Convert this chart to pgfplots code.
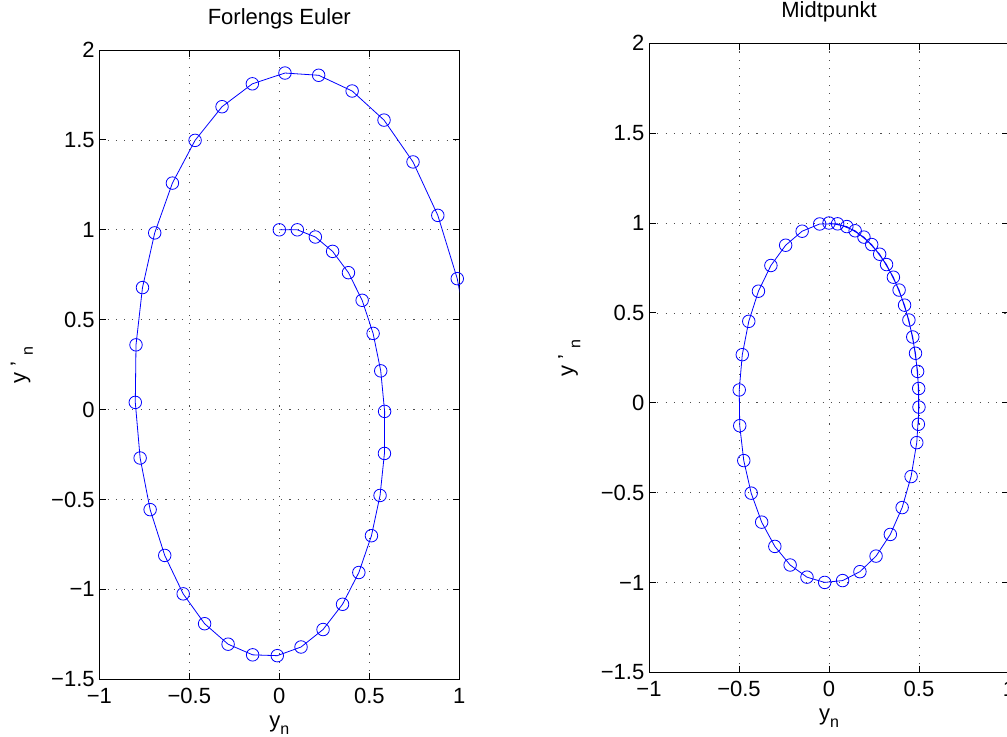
\documentclass[border=0pt]{standalone}
\usepackage{pgfplots}
\pgfplotsset{compat=1.18}
\usepackage{pgfplotstable}
\usepackage{fontspec}
\setmainfont{Liberation Sans}

\pgfplotstableread{
y v
0 1
0.1 1
0.2 0.96
0.296 0.88
0.384 0.7616
0.46016 0.608
0.52096 0.423936
0.563354 0.215552
0.584909 -0.009789
0.583930 -0.243753
0.559555 -0.477325
0.511822 -0.701147
0.441707 -0.905876
0.351120 -1.082559
0.242864 -1.223006
0.120563 -1.320152
-0.011452 -1.368377
-0.148290 -1.363797
-0.284669 -1.304481
-0.415117 -1.190613
-0.534179 -1.024566
-0.636635 -0.810895
-0.717725 -0.556241
-0.773349 -0.269151
-0.800264 0.040189
-0.796245 0.360294
-0.760216 0.678792
-0.692336 0.982879
-0.594048 1.259813
-0.468067 1.497433
-0.318324 1.684659
-0.149858 1.811989
0.031341 1.871932
0.218534 1.859396
0.404474 1.771982
0.581672 1.610193
0.742691 1.377524
0.880444 1.080447
0.988488 0.728270
1.061315 0.332875
1.094603 -0.091652
}\euler

\pgfplotstableread{
y v
0 1
0.099010 0.980198
0.194099 0.921576
0.281501 0.826456
0.357755 0.698606
0.419840 0.543087
0.465292 0.366060
0.492322 0.174537
0.499857 -0.023900
0.487592 -0.221389
0.456017 -0.410115
0.406383 -0.582591
0.340652 -0.731992
0.261432 -0.852416
0.171858 -0.939074
0.075477 -0.988541
-0.023893 -0.998857
-0.122317 -0.969616
-0.215896 -0.901973
-0.300925 -0.798609
-0.374038 -0.663615
-0.432335 -0.502342
-0.473510 -0.321173
-0.495933 -0.127284
-0.498715 0.071645
-0.481747 0.267737
-0.445698 0.453226
-0.391999 0.620765
-0.322774 0.763720
-0.240767 0.876428
-0.149224 0.954426
-0.051772 0.994625
0.047731 0.995433
0.145345 0.956817
0.237201 0.880309
0.319663 0.768935
0.389465 0.627111
0.443843 0.460450
0.480643 0.275552
0.498408 0.079742
0.496434 -0.119226
}\midpt

\newcommand{\sub}[1]{\raisebox{-0.6ex}{\fontsize{12}{12}\selectfont #1}}

\pgfplotsset{
  mystyle/.style={
    scale only axis, width=270pt, height=472pt,
    xmin=-1, xmax=1, ymin=-1.5, ymax=2,
    xtick={-1,-0.5,0,0.5,1},
    ytick={-1.5,-1,-0.5,0,0.5,1,1.5,2},
    xticklabels={−1,−0.5,0,0.5,1},
    yticklabels={−1.5,−1,−0.5,0,0.5,1,1.5,2},
    grid=major,
    major grid style={black!70, line width=0.6pt, dash pattern=on 0.8pt off 5.4pt},
    axis line style={black, line width=0.75pt},
    tick style={black, line width=0.75pt},
    major tick length=5pt,
    tick align=inside,
    font=\fontsize{16.5}{19}\selectfont,
    xticklabel style={yshift=-3pt},
    title style={at={(axis description cs:0.5,1)}, anchor=base, yshift=13.5pt},
    xlabel style={at={(axis description cs:0.5,0)}, anchor=base, yshift=-36pt},
    clip mode=individual,
  }
}

\begin{document}
\begin{tikzpicture}
\useasboundingbox (0,0) rectangle (755.25pt,552pt);
\begin{axis}[mystyle, at={(74.5pt,42.5pt)}, anchor=south west,
  title={Forlengs Euler},
  xlabel={y\sub{n}},
  ylabel={y ' \sub{n}},
  ylabel style={at={(axis description cs:-0.2037,0.5)}, anchor=base}]
\addplot[blue, line width=0.6pt, no markers] table[x=y,y=v] {\euler};
\addplot[blue, only marks, mark=o, mark size=4.7pt, mark options={line width=0.6pt},
  skip coords between index={39}{41}] table[x=y,y=v] {\euler};
\end{axis}
\begin{axis}[mystyle, at={(486.75pt,47.6pt)}, anchor=south west,
  title={Midtpunkt},
  xlabel={y\sub{n}},
  ylabel={y ' \sub{n}},
  ylabel style={at={(axis description cs:-0.21,0.5)}, anchor=base}]
\addplot[blue, line width=0.6pt, mark=o, mark size=4.7pt, mark options={line width=0.6pt}] table[x=y,y=v] {\midpt};
\end{axis}
\end{tikzpicture}
\end{document}
